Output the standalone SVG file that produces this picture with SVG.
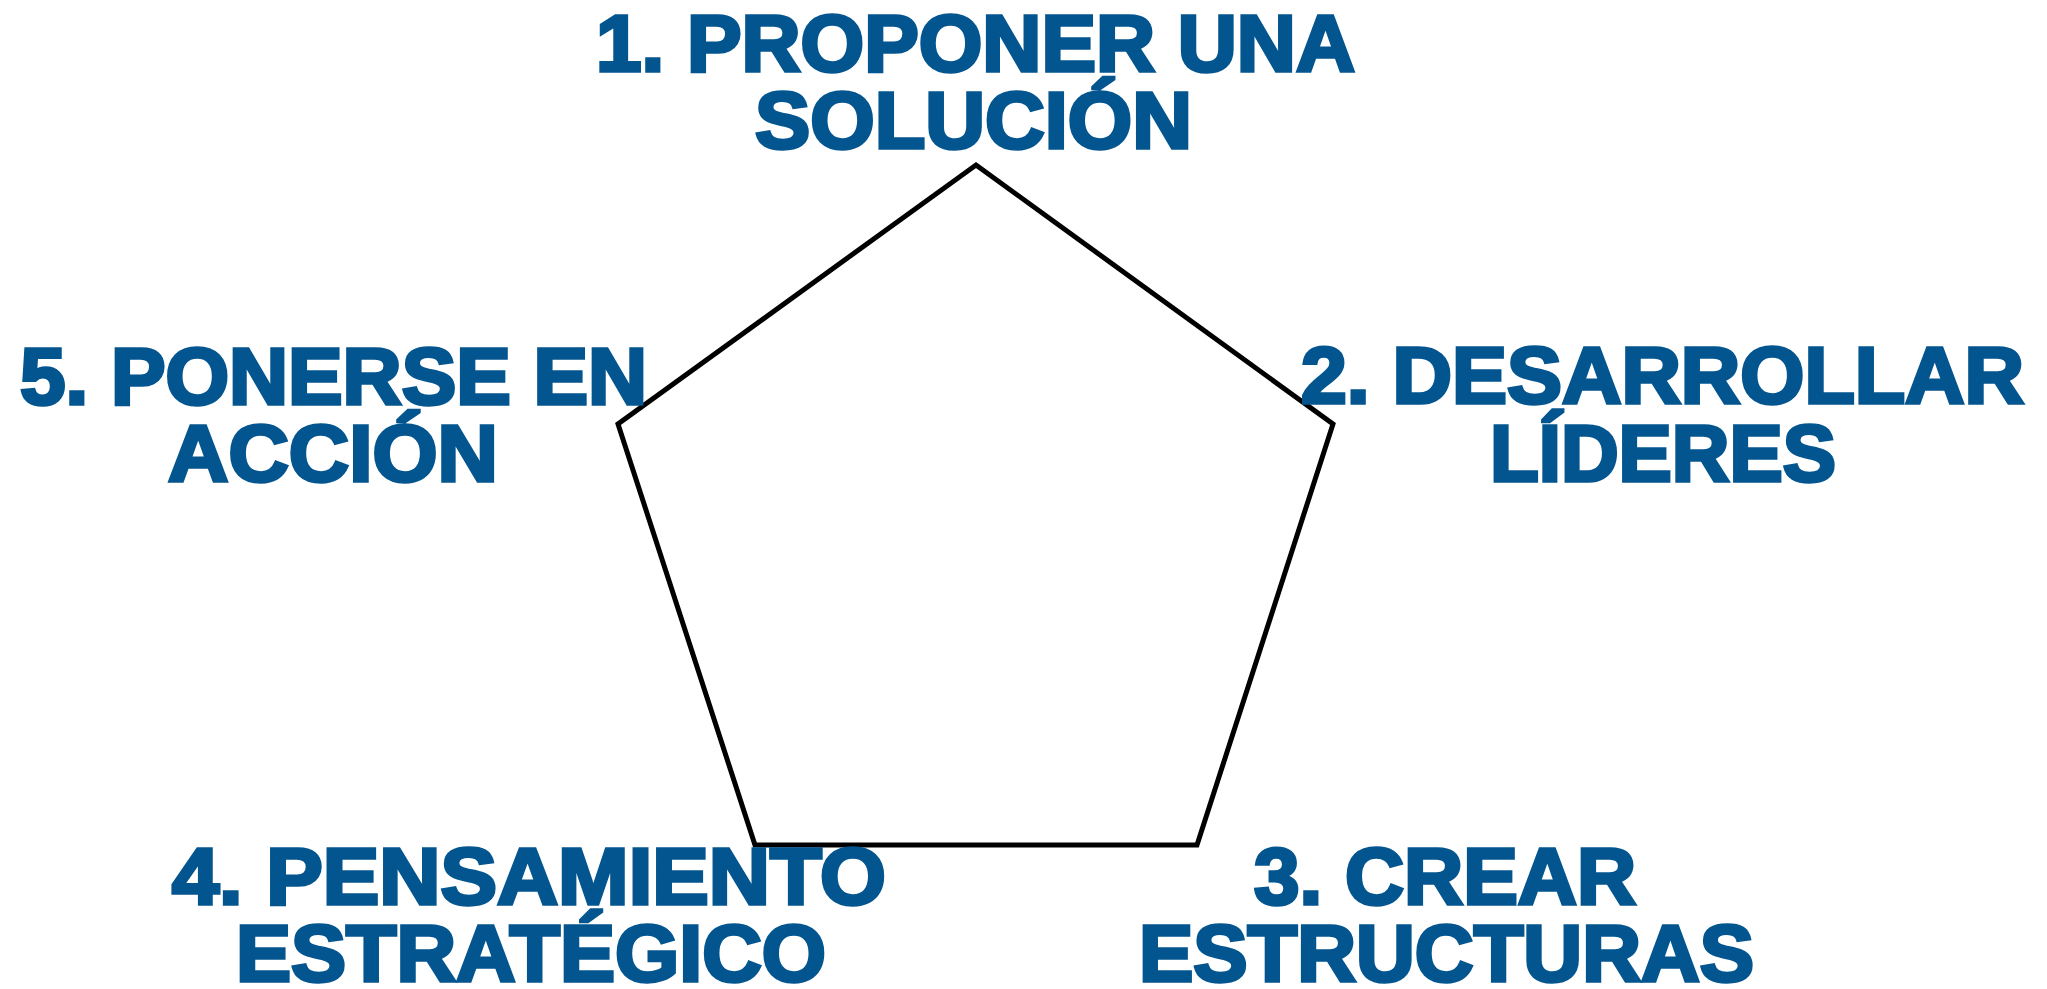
<svg xmlns="http://www.w3.org/2000/svg" width="2047" height="989" viewBox="0 0 2047 989">
<style>
.lbl{font-family:"Liberation Sans","Arimo",sans-serif;font-weight:700;font-size:79px;fill:#03558f;stroke:#03558f;stroke-width:3.5;stroke-linejoin:miter;}
.pent{fill:none;stroke:#000;stroke-width:5;stroke-linejoin:miter;}
</style>
<rect width="2047" height="989" fill="#fff"/>
<g id="pentagon">
<polygon class="pent" points="976,165 1333,424 1197,845 755,845 618,424"/>
</g>
<g id="step1">
<text class="lbl" x="596" y="71" textLength="759" lengthAdjust="spacingAndGlyphs">1. PROPONER UNA</text>
<text class="lbl" x="755" y="148" textLength="437" lengthAdjust="spacingAndGlyphs">SOLUCIÓN</text>
</g>
<g id="step2">
<text class="lbl" x="1301" y="403" textLength="723" lengthAdjust="spacingAndGlyphs">2. DESARROLLAR</text>
<text class="lbl" x="1490" y="481" textLength="346" lengthAdjust="spacingAndGlyphs">LÍDERES</text>
</g>
<g id="step3">
<text class="lbl" x="1254" y="904" textLength="382" lengthAdjust="spacingAndGlyphs">3. CREAR</text>
<text class="lbl" x="1139" y="981" textLength="615" lengthAdjust="spacingAndGlyphs">ESTRUCTURAS</text>
</g>
<g id="step4">
<text class="lbl" x="172" y="904" textLength="714" lengthAdjust="spacingAndGlyphs">4. PENSAMIENTO</text>
<text class="lbl" x="236" y="981" textLength="590" lengthAdjust="spacingAndGlyphs">ESTRATÉGICO</text>
</g>
<g id="step5">
<text class="lbl" x="20" y="404" textLength="627" lengthAdjust="spacingAndGlyphs">5. PONERSE EN</text>
<text class="lbl" x="168" y="481" textLength="330" lengthAdjust="spacingAndGlyphs">ACCIÓN</text>
</g>
</svg>
